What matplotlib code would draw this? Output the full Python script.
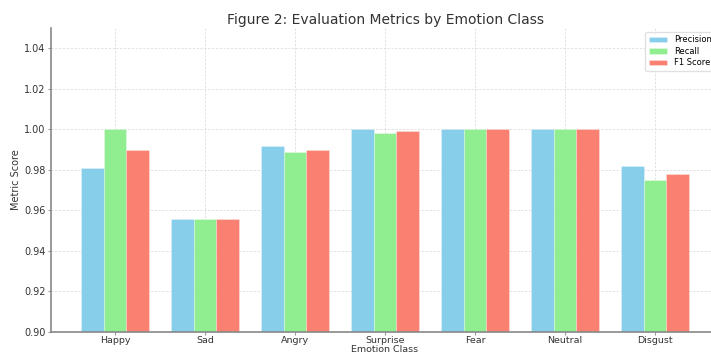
import matplotlib.pyplot as plt
import numpy as np

# emotion classes and the three metrics per class
classes = ['Happy', 'Sad', 'Angry', 'Surprise', 'Fear', 'Neutral', 'Disgust']
precision = [0.981, 0.956, 0.992, 1.000, 1.000, 1.000, 0.982]
recall = [1.000, 0.956, 0.989, 0.998, 1.000, 1.000, 0.975]
f1_score = [0.990, 0.956, 0.990, 0.999, 1.000, 1.000, 0.978]

fig = plt.figure(figsize=(7.11, 3.56), dpi=100)
# axes runs a little past the right edge, like the cropped screenshot
ax = fig.add_axes([0.0717, 0.0674, 0.9396, 0.854])

x = np.arange(len(classes))
w = 0.25
edge = (1, 1, 1, 0.5)
ax.bar(x - w, precision, w, color='skyblue', edgecolor=edge, linewidth=0.4, label='Precision', zorder=2)
ax.bar(x, recall, w, color='lightgreen', edgecolor=edge, linewidth=0.4, label='Recall', zorder=2)
ax.bar(x + w, f1_score, w, color='salmon', edgecolor=edge, linewidth=0.4, label='F1 Score', zorder=2)

ax.set_ylim(0.90, 1.05)
ax.set_yticks(np.arange(0.90, 1.041, 0.02))
ax.set_xticks(x)
ax.set_xticklabels(classes)
ax.tick_params(labelsize=7, labelcolor='#333333', length=2.5, width=0.8, color='#999999', pad=1.5)
ax.tick_params(axis='x', length=2, pad=1, labelsize=6.8)

ax.grid(True, linestyle=(0, (3, 2)), color='#dadada', linewidth=0.55, zorder=0)
ax.set_axisbelow(True)
for s in ['top', 'right']:
    ax.spines[s].set_visible(False)
for s in ['left', 'bottom']:
    ax.spines[s].set_color('#888888')
    ax.spines[s].set_linewidth(1.2)

ax.set_title('Figure 2: Evaluation Metrics by Emotion Class', fontsize=10, color='#333333', pad=3)
ax.set_xlabel('Emotion Class', fontsize=6.8, color='#333333', labelpad=0)
ax.set_ylabel('Metric Score', fontsize=7, color='#333333', labelpad=2)

ax.legend(loc='upper right', fontsize=6, frameon=True, framealpha=0.9, edgecolor='#dddddd',
          handlelength=2.2, borderpad=0.4, labelspacing=0.3)

plt.savefig('out.png', dpi=100)
